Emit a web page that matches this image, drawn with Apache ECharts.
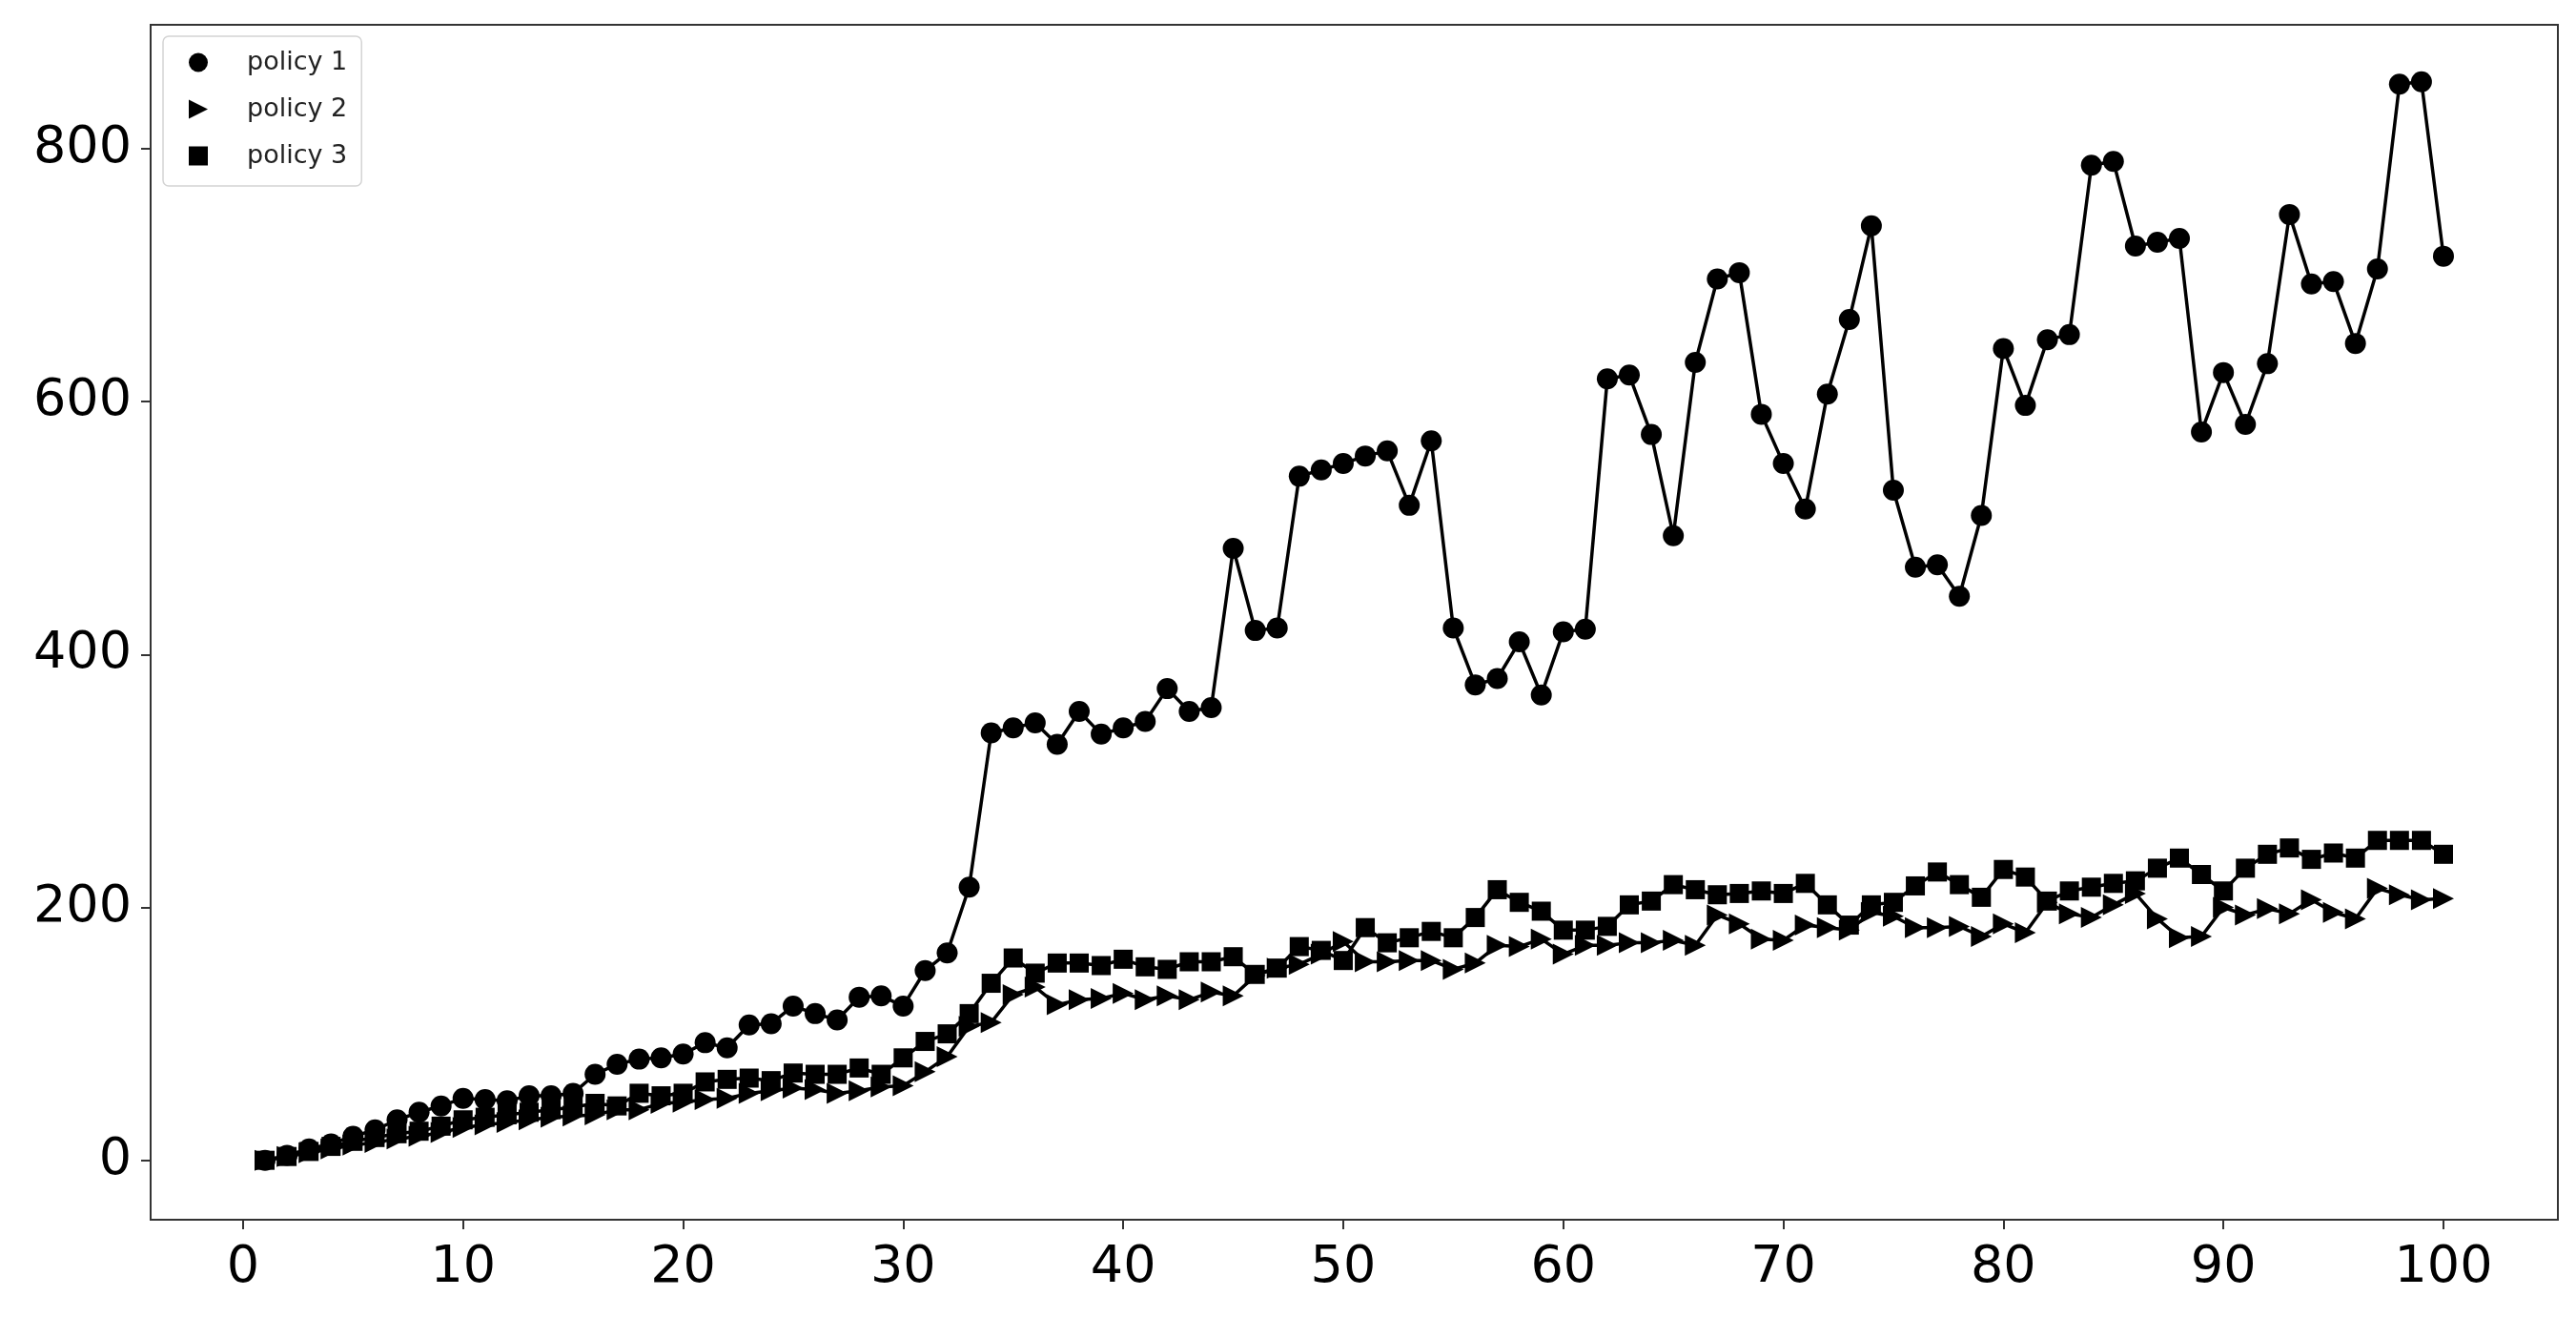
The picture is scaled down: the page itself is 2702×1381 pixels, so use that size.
<!DOCTYPE html>
<html><head><meta charset="utf-8">
<script src="https://cdn.jsdelivr.net/npm/echarts@6/dist/echarts.min.js"></script>
<style>html,body{margin:0;padding:0;background:#fff}#c{width:2702px;height:1381px}</style>
</head><body><div id="c"></div>
<script>
const steps = [1,2,3,4,5,6,7,8,9,10,11,12,13,14,15,16,17,18,19,20,21,22,23,24,25,26,27,28,29,30,31,32,33,34,35,36,37,38,39,40,41,42,43,44,45,46,47,48,49,50,51,52,53,54,55,56,57,58,59,60,61,62,63,64,65,66,67,68,69,70,71,72,73,74,75,76,77,78,79,80,81,82,83,84,85,86,87,88,89,90,91,92,93,94,95,96,97,98,99,100];
const policy1 = [0,4,9,13,19,24,32,38,43,49,48,47,51,51,53,68,76,80,81,84,93,89,107,108,122,116,111,129,130,122,150,164,216,338,342,346,329,355,337,342,347,373,355,358,484,419,421,541,546,551,557,561,518,569,421,376,381,410,368,418,420,618,621,574,494,631,697,702,590,551,515,606,665,739,530,469,471,446,510,642,597,649,653,787,790,723,726,729,576,623,582,630,748,693,695,646,705,851,853,715];
const policy2 = [0,3,6,9,12,14,17,19,22,26,28,30,32,34,35,36,40,40,45,46,48,49,53,55,57,56,53,55,58,59,70,82,106,109,131,137,123,127,128,132,127,130,127,133,130,146,152,155,163,173,157,157,158,158,151,156,170,169,175,163,170,170,172,172,174,170,194,187,175,174,186,184,182,196,193,184,184,185,177,187,180,204,195,192,202,211,191,176,177,200,194,199,195,206,196,191,215,210,206,207];
const policy3 = [0,3,7,11,15,18,21,23,27,32,34,36,38,40,42,45,43,53,51,53,62,64,65,63,69,68,68,73,68,81,94,100,116,140,160,148,156,156,154,159,153,151,157,157,161,147,152,169,166,158,184,172,176,181,176,192,214,204,197,182,182,185,202,205,218,214,210,211,213,211,219,202,186,202,204,217,228,218,208,230,224,205,213,216,219,221,231,239,226,213,231,242,247,238,243,239,253,253,253,242];
const seriesNames = ['policy 1','policy 2','policy 3'];
const xTicks = [0,10,20,30,40,50,60,70,80,90,100];
const yTicks = [0,200,400,600,800];

const triPath = 'path://M0,0L10,5L0,10Z';
const font = 'DejaVu Sans';
function pairs(vals){ return steps.map((x,i)=>[x, vals[i]]); }

const chart = echarts.init(document.getElementById('c'), null, {renderer:'canvas'});
const tickStyle = {color:'#333', width:2};
chart.setOption({
  animation:false,
  backgroundColor:'#fff',
  grid:{left:158, right:19, top:26, bottom:102, show:true, borderColor:'#333', borderWidth:2, backgroundColor:'transparent'},
  legend:{
    orient:'vertical', left:171, top:38,
    padding:[14,15,18,27],
    itemWidth:20, itemHeight:20, itemGap:22,
    borderColor:'#d4d4d4', borderWidth:1.5, borderRadius:6, backgroundColor:'#fff',
    textStyle:{fontFamily:font, fontSize:27, color:'#222', padding:[0,0,0,36], lineHeight:20},
    data:[
      {name:seriesNames[0], icon:'circle'},
      {name:seriesNames[1], icon:triPath},
      {name:seriesNames[2], icon:'rect'}
    ]
  },
  xAxis:{
    type:'value', min:-4.2, max:105.2,
    axisLine:{show:false, onZero:false}, splitLine:{show:false},
    axisTick:{show:true, inside:false, length:10, customValues:xTicks, lineStyle:tickStyle},
    axisLabel:{customValues:xTicks, fontFamily:font, fontSize:54, color:'#000', margin:24}
  },
  yAxis:{
    type:'value', min:-47, max:898,
    axisLine:{show:false, onZero:false}, splitLine:{show:false},
    axisTick:{show:true, inside:false, length:10, customValues:yTicks, lineStyle:tickStyle},
    axisLabel:{customValues:yTicks, fontFamily:font, fontSize:54, color:'#000', margin:20}
  },
  series:[
    {name:seriesNames[0], type:'line', data:pairs(policy1), symbol:'circle', symbolSize:22,
     lineStyle:{color:'#000', width:3.5}, itemStyle:{color:'#000'}, showAllSymbol:true},
    {name:seriesNames[1], type:'line', data:pairs(policy2), symbol:triPath, symbolSize:22,
     lineStyle:{color:'#000', width:3.5}, itemStyle:{color:'#000'}, showAllSymbol:true},
    {name:seriesNames[2], type:'line', data:pairs(policy3), symbol:'rect', symbolSize:20,
     lineStyle:{color:'#000', width:3.5}, itemStyle:{color:'#000'}, showAllSymbol:true}
  ]
});
</script></body></html>
